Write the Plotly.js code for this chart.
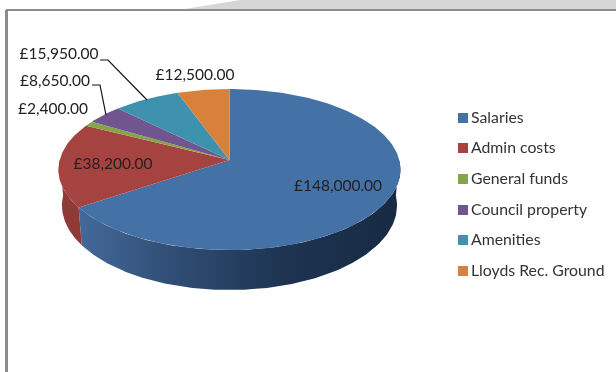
<!DOCTYPE html>
<html><head><meta charset="utf-8">
<script src="https://cdn.plot.ly/plotly-3.0.1.min.js"></script>
<style>html,body{margin:0;padding:0;background:#fff;overflow:hidden}#c{width:616px;height:372px;filter:blur(0.45px)}</style>
</head><body><div id="c"></div>
<script>
const categories = ["Salaries","Admin costs","General funds","Council property","Amenities","Lloyds Rec. Ground"];
const amounts = [148000,38200,2400,8650,15950,12500];
const valueLabels = ["£148,000.00","£38,200.00","£2,400.00","£8,650.00","£15,950.00","£12,500.00"];
const colors = ["#4471A6","#A54340","#88A44A","#70558F","#3E92AD","#D8813A"];

const FONT = "Lato, 'Open Sans', sans-serif";
const cx=229.5, cy=160, R=169.8, A=79.4, k=0.118, depth=35.3, shrink=0.98;
function topEdge(t){const u=Math.sin(t),v=Math.cos(t),d=1+k*v;return [cx+R*u/d,cy-A*v/d];}
function botEdge(t){const u=Math.sin(t),v=Math.cos(t),d=1+k*v;return [cx+shrink*R*u/d,cy+(depth-A*v)/d];}
function arc(f,a,b){const p=[],n=Math.max(2,Math.ceil(Math.abs(b-a)/(Math.PI/180)));
  for(let i=0;i<=n;i++)p.push(f(a+(b-a)*i/n));return p;}
function poly(pts,extra){return Object.assign({type:"scatter",mode:"lines",x:pts.map(p=>p[0]),y:pts.map(p=>p[1]),
  fill:"toself",line:{width:0},hoverinfo:"skip",showlegend:false},extra);}

const total=amounts.reduce((a,b)=>a+b,0);
let acc=0;const starts=[],ends=[];
amounts.forEach(v=>{starts.push(acc/total*2*Math.PI);acc+=v;ends.push(acc/total*2*Math.PI);});

const traces=[];
// side walls (visible front part only)
traces.push(poly(arc(topEdge,Math.PI/2,ends[0]).concat(arc(botEdge,ends[0],Math.PI/2)),{
  fillcolor:"#1b2f4a",
  fillgradient:{type:"horizontal",colorscale:[[0,"#44699A"],[0.3,"#2F4D73"],[0.65,"#1D3350"],[1,"#172A42"]]}}));
traces.push(poly(arc(topEdge,ends[0],1.5*Math.PI).concat(arc(botEdge,1.5*Math.PI,ends[0])),{fillcolor:"#8E3A37"}));
// top surface
amounts.forEach((v,i)=>{
  const pts=[[cx,cy]].concat(arc(topEdge,starts[i],ends[i]));pts.push([cx,cy]);
  traces.push(poly(pts,{fillcolor:colors[i],name:categories[i]}));
});
// leader lines
traces.push({type:"scatter",mode:"lines",x:[100,108,147],y:[60,60,100],line:{color:"#111",width:1.2},hoverinfo:"skip",showlegend:false});
traces.push({type:"scatter",mode:"lines",x:[92,100,106],y:[85,85,115],line:{color:"#111",width:1.2},hoverinfo:"skip",showlegend:false});
// value labels
traces.push({type:"scatter",mode:"text",x:[338,113,53,55,59,195],y:[187,165,110,82,55,76],text:valueLabels,
  textposition:"middle center",textfont:{family:FONT,size:15.5,color:"#222"},hoverinfo:"skip",showlegend:false});
// legend
traces.push({type:"scatter",mode:"markers",x:categories.map(()=>463),y:[118,148,179,210,240,271],
  marker:{symbol:"square",size:10,color:colors},hoverinfo:"skip",showlegend:false});
traces.push({type:"scatter",mode:"text",x:categories.map(()=>471),y:[119,149,180,211,241,272],text:categories,
  textposition:"middle right",textfont:{family:FONT,size:15.8,color:"#333"},hoverinfo:"skip",showlegend:false});

const layout={width:616,height:372,margin:{l:0,r:0,t:0,b:0},paper_bgcolor:"#fff",plot_bgcolor:"#fff",showlegend:false,
  xaxis:{range:[0,616],visible:false,fixedrange:true},
  yaxis:{range:[372,0],visible:false,fixedrange:true},
  shapes:[
    {type:"path",path:"M185,9 L240,0 L616,0 L616,9 Z",fillcolor:"#D6D6D6",line:{width:0},layer:"below"},
    {type:"line",x0:6,x1:616,y0:10,y1:10,line:{color:"#8C8C8C",width:2},layer:"below"},
    {type:"line",x0:6.5,x1:6.5,y0:10,y1:372,line:{color:"#8C8C8C",width:3},layer:"below"}
  ]};
Plotly.newPlot("c",traces,layout,{staticPlot:true,displayModeBar:false});
</script></body></html>
